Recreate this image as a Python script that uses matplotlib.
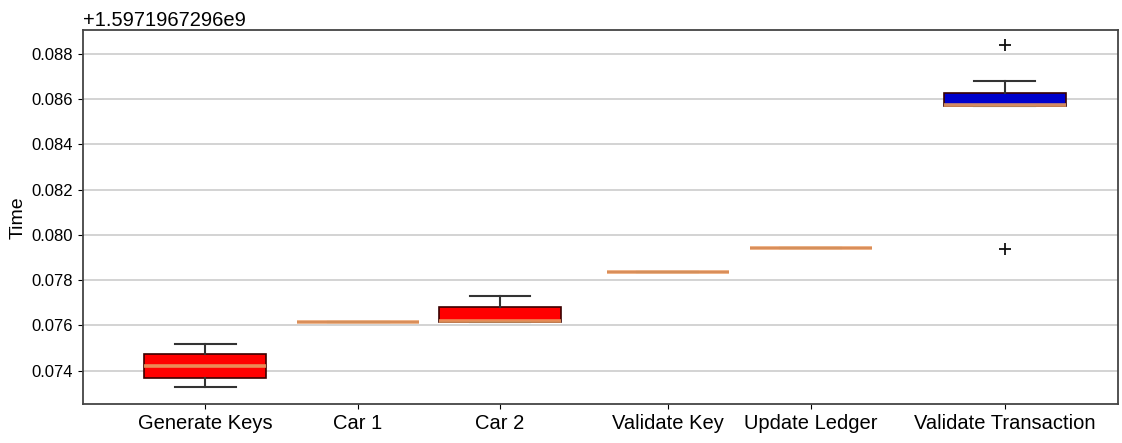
import matplotlib
matplotlib.use("Agg")
import matplotlib.pyplot as plt
from matplotlib.ticker import ScalarFormatter

plt.rcParams['font.family'] = ['Liberation Sans', 'DejaVu Sans']

OFFSET = 1.5971967296e9
OFFSET_LABEL = "+1.5971967296e9"

categories = ["Generate Keys", "Car 1", "Car 2", "Validate Key", "Update Ledger", "Validate Transaction"]
# values relative to offset
whislo = [0.073280, 0.076150, 0.076150, 0.078371, 0.079404, 0.085687]
q1     = [0.073678, 0.076150, 0.076150, 0.078371, 0.079404, 0.085687]
med    = [0.074208, 0.076150, 0.076194, 0.078371, 0.079404, 0.085720]
q3     = [0.074737, 0.076170, 0.076812, 0.078371, 0.079404, 0.086247]
whishi = [0.075179, 0.076170, 0.077298, 0.078371, 0.079404, 0.086804]
fliers = [[], [], [], [], [], [0.088390, 0.079373]]
box_colors = ["#ff0000", "#ff0000", "#ff0000", "#ff0000", "#ff0000", "#0000cc"]

# layout
positions = [122, 275, 417, 585, 728, 922]
width = 122


class FixedOffsetFormatter(ScalarFormatter):
    def get_offset(self):
        return OFFSET_LABEL


stats = []
for i, c in enumerate(categories):
    stats.append(dict(label=c,
                      whislo=OFFSET + whislo[i], q1=OFFSET + q1[i], med=OFFSET + med[i],
                      q3=OFFSET + q3[i], whishi=OFFSET + whishi[i],
                      fliers=[OFFSET + f for f in fliers[i]]))

fig = plt.figure(figsize=(11.22, 4.43), dpi=100)
ax = fig.add_axes([0.074, 0.0874, 0.9224, 0.8446])

bp = ax.bxp(stats, positions=positions, widths=width, patch_artist=True,
            boxprops=dict(edgecolor="#3a0000", linewidth=1.2),
            medianprops=dict(color="#e89a60", linewidth=2.6, alpha=0.9),
            whiskerprops=dict(color="#333333", linewidth=1.5),
            capprops=dict(color="#333333", linewidth=1.5),
            flierprops=dict(marker="+", markeredgecolor="#111111", markersize=8, markeredgewidth=1.3),
            capwidths=width / 2)
for patch, col in zip(bp['boxes'], box_colors):
    patch.set_facecolor(col)

ax.set_xlim(0, 1035)
ax.set_ylim(OFFSET + 0.072517, OFFSET + 0.089042)
ax.set_xticks(positions)
ax.set_xticklabels(categories, fontsize=14.5)

fmt = FixedOffsetFormatter(useOffset=OFFSET, useMathText=False)
ax.yaxis.set_major_formatter(fmt)
ax.set_yticks([OFFSET + v for v in [0.074, 0.076, 0.078, 0.080, 0.082, 0.084, 0.086, 0.088]])
ax.yaxis.get_offset_text().set_fontsize(14.5)
ax.tick_params(axis='y', labelsize=12)
ax.set_ylabel("Time", fontsize=14)

ax.yaxis.grid(True, color="#cccccc", linewidth=1.2)
ax.set_axisbelow(True)
for s in ax.spines.values():
    s.set_color("#444444")
    s.set_linewidth(1.3)

fig.savefig("out.png", dpi=100)
